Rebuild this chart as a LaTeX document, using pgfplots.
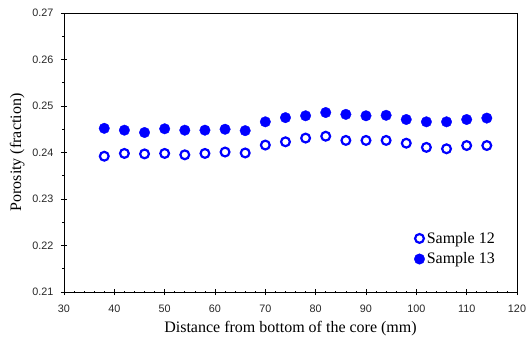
\documentclass[border=0pt]{standalone}
\usepackage{fontspec}
\setmainfont{Liberation Serif}
\newfontfamily\ticksfont{Liberation Sans}
\usepackage{pgfplots}
\pgfplotsset{compat=1.18}
\definecolor{mblue}{RGB}{0,0,255}
\begin{document}
\begin{tikzpicture}
\begin{axis}[
  scale only axis,
  width=453bp, height=279bp,
  xmin=30, xmax=120, ymin=0.21, ymax=0.27,
  xtick={30,40,...,120},
  ytick={0.21,0.22,...,0.27},
  minor x tick num=4,
  minor y tick num=1,
  tick pos=left,
  tick align=center,
  major tick length=6bp,
  minor tick length=3bp,
  axis line style={line width=0.8bp},
  tick style={line width=0.7bp,black},
  /pgf/number format/assume math mode=true,
  yticklabel style={xshift=-4bp, /pgf/number format/.cd, fixed, fixed zerofill, precision=2},
  xticklabel style={yshift=-6bp},
  ticklabel style={font=\ticksfont\fontsize{10.8bp}{13bp}\selectfont, text=black!85},
  xlabel={Distance from bottom of the core (mm)},
  ylabel={Porosity (fraction)},
  label style={font=\fontsize{16bp}{18bp}\selectfont},
  xlabel style={yshift=-2bp},
  ylabel style={yshift=1bp},
  legend style={at={(0.958,0.226)}, anchor=north east, draw=none, fill=none,
    font=\fontsize{16bp}{19bp}\selectfont, row sep=4bp, inner sep=1bp},
  legend cell align=left,
  legend image code/.code={\draw[#1] plot coordinates {(0bp,0bp)};},
]
\addplot[only marks, mark=o, mark size=4.4bp, mblue, line width=2.2bp] coordinates {
(38,0.2392) (42,0.2398) (46,0.2397) (50,0.2398) (54,0.2395) (58,0.2398)
(62,0.2401) (66,0.2399) (70,0.2416) (74,0.2423) (78,0.2431) (82,0.2435)
(86,0.2426) (90,0.2426) (94,0.2426) (98,0.2420) (102,0.2411) (106,0.2408)
(110,0.2415) (114,0.2415)
};
\addlegendentry{Sample 12}
\addplot[only marks, mark=*, mark size=5.3bp, mblue, line width=0.3bp] coordinates {
(38,0.2452) (42,0.2448) (46,0.2443) (50,0.2451) (54,0.2448) (58,0.2448)
(62,0.2450) (66,0.2447) (70,0.2466) (74,0.2475) (78,0.2479) (82,0.2486)
(86,0.2482) (90,0.2479) (94,0.2480) (98,0.2471) (102,0.2466) (106,0.2466)
(110,0.2471) (114,0.2474)
};
\addlegendentry{Sample 13}
\end{axis}
\pgfresetboundingbox
\path ([xshift=-64bp,yshift=-45bp]current axis.south west) rectangle ([xshift=12bp,yshift=13bp]current axis.north east);
\end{tikzpicture}
\end{document}
